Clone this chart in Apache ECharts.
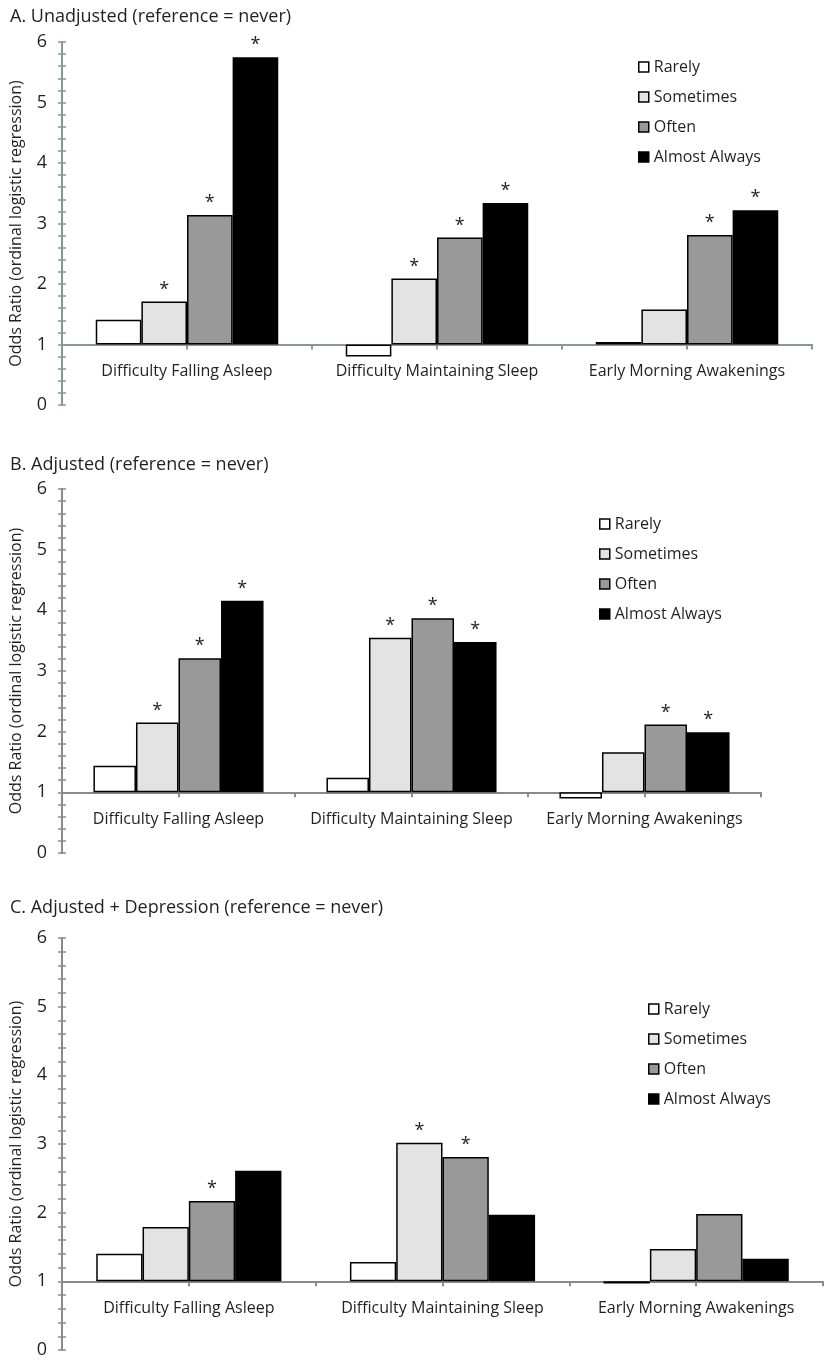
<!DOCTYPE html>
<html>
<head>
<meta charset="utf-8">
<script src="https://cdn.jsdelivr.net/npm/echarts@6/dist/echarts.min.js"></script>
<style>
  html, body { margin: 0; padding: 0; background: #fff; }
  #chart { width: 830px; height: 1370px; }
</style>
</head>
<body>
<div id="chart"></div>
<script>
const categories = ["Difficulty Falling Asleep", "Difficulty Maintaining Sleep", "Early Morning Awakenings"];
const frequencies = ["Rarely", "Sometimes", "Often", "Almost Always"];
const yTickLabels = [0, 1, 2, 3, 4, 5, 6];

// odds ratios, one row per frequency (Rarely, Sometimes, Often, Almost Always)
const unadjustedOR = [
  [1.41, 0.80, 1.04],
  [1.71, 2.09, 1.58],
  [3.14, 2.77, 2.81],
  [5.75, 3.34, 3.22],
];
const unadjustedSig = [
  [0, 0, 0],
  [1, 1, 0],
  [1, 1, 1],
  [1, 1, 1],
];

const adjustedOR = [
  [1.44, 1.24, 0.90],
  [2.15, 3.55, 1.66],
  [3.21, 3.87, 2.12],
  [4.16, 3.48, 1.99],
];
const adjustedSig = [
  [0, 0, 0],
  [1, 1, 0],
  [1, 1, 1],
  [1, 1, 1],
];

const depressionOR = [
  [1.40, 1.28, 0.97],
  [1.79, 3.02, 1.47],
  [2.17, 2.81, 1.98],
  [2.61, 1.97, 1.33],
];
const depressionSig = [
  [0, 0, 0],
  [0, 1, 0],
  [1, 1, 0],
  [0, 0, 0],
];

const FILLS = ["#ffffff", "#e3e3e3", "#999999", "#000000"];
const TEXT = "#231f20";
const FONT = "Open Sans";
const BASE = 1; // bars grow from OR = 1

const panels = [
  {
    title: "A. Unadjusted (reference = never)", values: unadjustedOR, stars: unadjustedSig,
    axisColor: "#86999a", titleTop: 3,
    grid: { left: 59, top: 42, width: 753, height: 363 },
    legend: { left: 638, top: 58 },
  },
  {
    title: "B. Adjusted (reference = never)", values: adjustedOR, stars: adjustedSig,
    axisColor: "#8a8a8a", titleTop: 451,
    grid: { left: 60, top: 489, width: 701, height: 364 },
    legend: { left: 599, top: 515 },
  },
  {
    title: "C. Adjusted + Depression (reference = never)", values: depressionOR, stars: depressionSig,
    axisColor: "#8a8a8a", titleTop: 894,
    grid: { left: 60, top: 938, width: 763, height: 412 },
    legend: { left: 648, top: 1000 },
  },
];

const option = {
  backgroundColor: "#fff",
  animation: false,
  textStyle: { fontFamily: FONT, color: TEXT },
  title: [],
  legend: [],
  grid: [],
  xAxis: [],
  yAxis: [],
  series: [],
};

panels.forEach((p, i) => {
  // labels sit at the grid bottom, so pull them up to just under the OR = 1 line
  const unit = p.grid.height / (yTickLabels.length - 1);
  const labelMargin = 19 - unit * BASE;

  option.title.push({
    text: p.title, left: 5, top: p.titleTop,
    textStyle: { fontFamily: FONT, fontSize: 18, fontWeight: "normal", color: TEXT },
  });
  option.legend.push({
    data: frequencies, orient: "vertical", left: p.legend.left, top: p.legend.top,
    padding: 0, icon: "rect", itemWidth: 10, itemHeight: 10, itemGap: 12,
    itemStyle: { borderColor: "#000", borderWidth: 1.5 },
    textStyle: { fontFamily: FONT, fontSize: 16, color: TEXT, lineHeight: 18 },
    selectedMode: false,
  });
  option.grid.push(Object.assign({ containLabel: false }, p.grid));

  const axisLine = { show: true, onZero: true, onZeroAxisIndex: 2 * i, lineStyle: { color: p.axisColor, width: 2 } };
  // category axis: boundary ticks + labels
  option.xAxis.push({
    type: "category", gridIndex: i, data: categories, position: "bottom",
    axisLine: axisLine,
    axisTick: { show: true, length: 5, lineStyle: { color: p.axisColor, width: 2 } },
    axisLabel: { fontFamily: FONT, fontSize: 16, color: TEXT, margin: labelMargin, interval: 0 },
    splitLine: { show: false },
  });
  // same axis again for the ticks in the middle of each category
  option.xAxis.push({
    type: "category", gridIndex: i, data: categories, position: "bottom",
    axisLine: axisLine,
    axisTick: { show: true, alignWithLabel: true, length: 5, lineStyle: { color: p.axisColor, width: 2 } },
    axisLabel: { show: false },
    splitLine: { show: false },
  });

  const yBase = {
    type: "value", gridIndex: i, position: "left",
    min: yTickLabels[0] - BASE, max: yTickLabels[yTickLabels.length - 1] - BASE, interval: 1,
    axisLine: { show: true, lineStyle: { color: p.axisColor, width: 2 } },
    splitLine: { show: false },
  };
  // outer ticks + labels
  option.yAxis.push(Object.assign({}, yBase, {
    name: "Odds Ratio (ordinal logistic regression)",
    nameLocation: "middle", nameGap: 38,
    nameTextStyle: { fontFamily: FONT, fontSize: 16, color: TEXT },
    axisTick: { show: true, inside: false, length: 4, lineStyle: { color: p.axisColor, width: 1.5 } },
    minorTick: { show: true, splitNumber: 5, length: 4, lineStyle: { color: p.axisColor, width: 1.5 } },
    axisLabel: { fontFamily: FONT, fontSize: 18, color: TEXT, margin: 15, formatter: (v) => String(Math.round(v + BASE)) },
  }));
  // inner half of the crossing ticks
  option.yAxis.push(Object.assign({}, yBase, {
    axisTick: { show: true, inside: true, length: 4, lineStyle: { color: p.axisColor, width: 1.5 } },
    minorTick: { show: true, splitNumber: 5, length: 4, lineStyle: { color: p.axisColor, width: 1.5 } },
    axisLabel: { show: false },
  }));

  frequencies.forEach((name, k) => {
    option.series.push({
      name: name, type: "bar",
      xAxisIndex: 2 * i, yAxisIndex: 2 * i,
      barGap: "0%", barCategoryGap: "27%",
      itemStyle: { color: FILLS[k], borderColor: "#000", borderWidth: 1.5 },
      label: {
        show: true, position: "top", distance: 3,
        fontFamily: FONT, fontSize: 18, color: TEXT,
        formatter: (params) => (p.stars[k][params.dataIndex] ? "*" : ""),
      },
      data: p.values[k].map((v) => +(v - BASE).toFixed(3)),
    });
  });
});

const chart = echarts.init(document.getElementById("chart"), null, { renderer: "canvas" });
chart.setOption(option);
</script>
</body>
</html>
